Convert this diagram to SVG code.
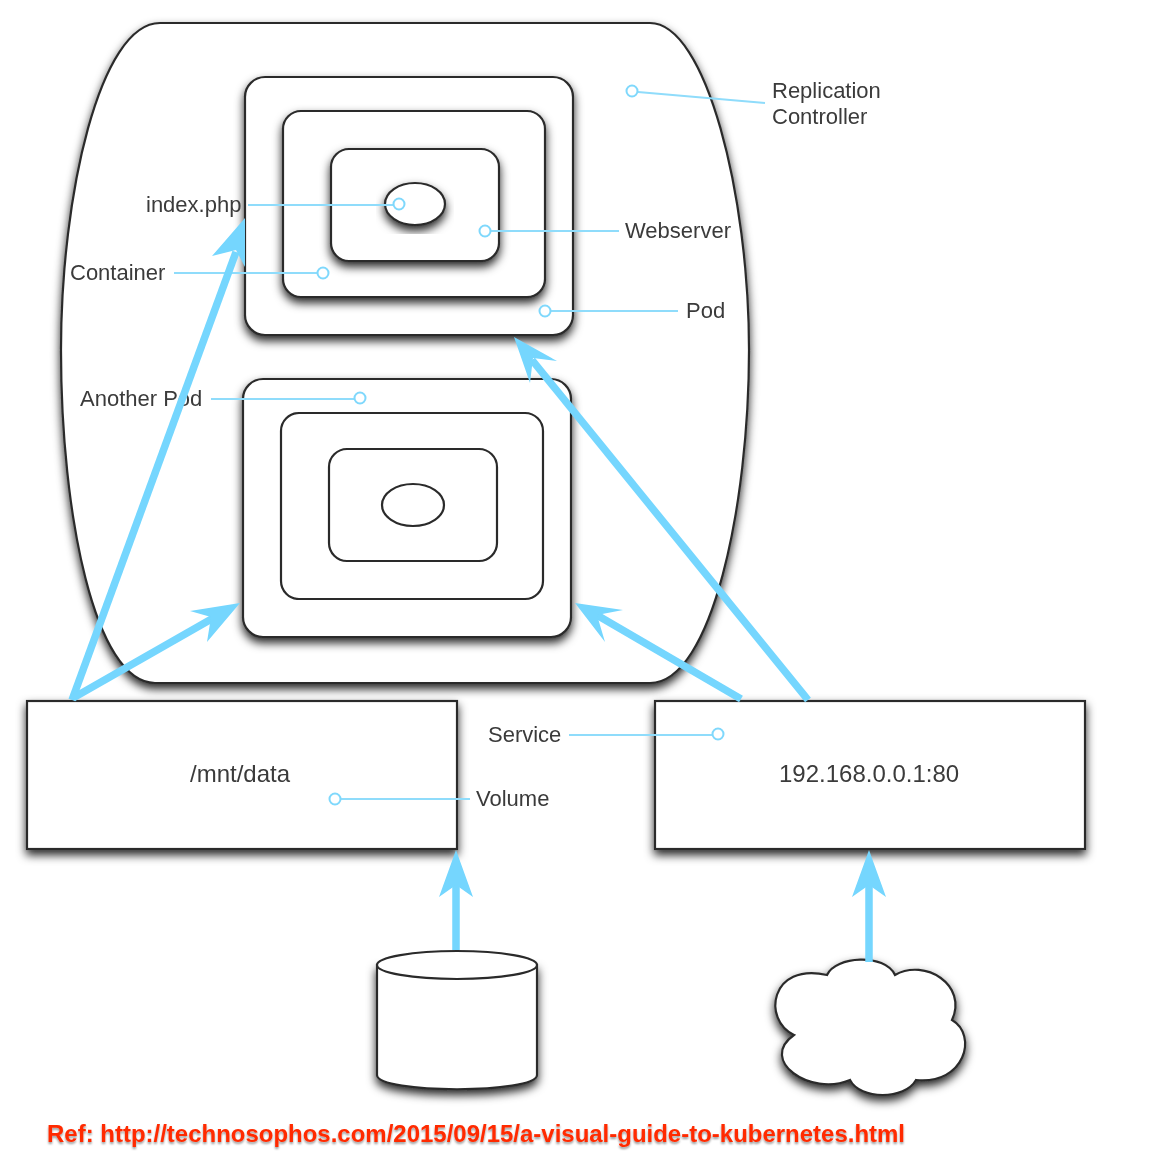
<svg xmlns="http://www.w3.org/2000/svg" width="1164" height="1156" viewBox="0 0 1164 1156">
<style>
.s{fill:#fff;stroke:#2b2b2b;stroke-width:2.2}
.sh{filter:url(#ds)}
.t{font-family:"Liberation Sans",Arial,sans-serif;font-size:22px;fill:#3a3a3a}
.b{font-size:24px}
.l{stroke:#8fdcfb;stroke-width:2;fill:none}
.c{fill:#fff;stroke:#7fd8fc;stroke-width:2}
.a{stroke:#74d6fe;stroke-width:7.5;fill:none}
.h{fill:#74d6fe}
</style>
<defs>
<filter id="ds" x="-15%" y="-15%" width="130%" height="135%"><feDropShadow dx="0" dy="5" stdDeviation="5" flood-color="#000" flood-opacity="0.85"/></filter>
<filter id="rs" x="-2%" y="-30%" width="104%" height="170%"><feDropShadow dx="0" dy="2" stdDeviation="1.2" flood-color="#000" flood-opacity="0.4"/></filter>
<filter id="soft" filterUnits="userSpaceOnUse" x="0" y="0" width="1164" height="1156"><feGaussianBlur stdDeviation="0.55"/></filter>
</defs>
<rect width="1164" height="1156" fill="#fff"/>
<g filter="url(#soft)">
<g id="replication-controller"><path class="s sh" d="M160,23 H650 C706,23 749,195 749,350 C749,505 712,683 650,683 H155 C95,683 61,515 61,350 C61,195 100,23 160,23 Z"/></g>
<g id="pod-1">
<rect class="s sh" x="245" y="77" width="328" height="258" rx="20"/>
<rect class="s sh" x="283" y="111" width="262" height="186" rx="18"/>
<rect class="s sh" x="331" y="149" width="168" height="112" rx="18"/>
<ellipse class="s sh" cx="415" cy="204" rx="30" ry="21"/>
</g>
<g id="pod-2">
<rect class="s sh" x="243" y="379" width="328" height="258" rx="20"/>
<rect class="s" x="281" y="413" width="262" height="186" rx="18"/>
<rect class="s" x="329" y="449" width="168" height="112" rx="18"/>
<ellipse class="s" cx="413" cy="505" rx="31" ry="21"/>
</g>
<g id="volume"><rect class="s sh" x="27" y="701" width="430" height="148"/><text class="t b" x="190" y="782">/mnt/data</text></g>
<g id="service"><rect class="s sh" x="655" y="701" width="430" height="148"/><text class="t b" x="779" y="782">192.168.0.0.1:80</text></g>
<g id="disk">
<path class="s sh" d="M377,965 V1075 C377,1094 537,1094 537,1075 V965 Z"/>
<ellipse class="s" cx="457" cy="965" rx="80" ry="14"/>
</g>
<g id="cloud"><path class="s sh" d="M827,975 C835,956 885,953 895,975 C925,958 968,985 952,1020 C978,1035 965,1085 916,1080 C905,1100 860,1100 850,1080 C810,1097 758,1060 794,1035 C762,1020 770,962 827,975 Z"/></g>
<g id="labels">
<text class="t" x="772" y="98">Replication</text>
<text class="t" x="772" y="124">Controller</text>
<text class="t" x="146" y="212">index.php</text>
<text class="t" x="625" y="238">Webserver</text>
<text class="t" x="70" y="280">Container</text>
<text class="t" x="686" y="318">Pod</text>
<text class="t" x="80" y="406">Another Pod</text>
<text class="t" x="488" y="742">Service</text>
<text class="t" x="476" y="806">Volume</text>
</g>
<g id="connectors">
<path class="l" d="M638,92 L765,103"/><circle class="c" cx="632" cy="91" r="5.5"/>
<path class="l" d="M248,205 H393"/><circle class="c" cx="399" cy="204" r="5.5"/>
<path class="l" d="M491,231 H619"/><circle class="c" cx="485" cy="231" r="5.5"/>
<path class="l" d="M174,273 H318"/><circle class="c" cx="323" cy="273" r="5.5"/>
<path class="l" d="M551,311 H678"/><circle class="c" cx="545" cy="311" r="5.5"/>
<path class="l" d="M211,399 H354"/><circle class="c" cx="360" cy="398" r="5.5"/>
<path class="l" d="M569,735 H712"/><circle class="c" cx="718" cy="734" r="5.5"/>
<path class="l" d="M341,799 H470"/><circle class="c" cx="335" cy="799" r="5.5"/>
<path class="a" d="M72,700 L236,252"/><path class="h" d="M245,218 L212,256 L236,250 L245,267 Z"/>
<path class="a" d="M73,698 L215,617"/><path class="h" d="M240,603 L190,611 L211,617 L207,642 Z"/>
<path class="a" d="M808,700 L532,360"/><path class="h" d="M514,337 L557,361 L533,358 L530,383 Z"/>
<path class="a" d="M741,699 L595,614"/><path class="h" d="M575,603 L623,610 L597,615 L605,642 Z"/>
<path class="a" d="M456,950 V885"/><path class="h" d="M456,850 L439,897 L456,885 L473,897 Z"/>
<path class="a" d="M869,962 V885"/><path class="h" d="M869,850 L852,897 L869,885 L886,897 Z"/>
</g>
<text x="47" y="1142" font-family="'Liberation Sans',Arial,sans-serif" font-size="24" font-weight="bold" fill="#ff2a00" filter="url(#rs)" textLength="858" lengthAdjust="spacingAndGlyphs">Ref: http://technosophos.com/2015/09/15/a-visual-guide-to-kubernetes.html</text>
</g>
</svg>
